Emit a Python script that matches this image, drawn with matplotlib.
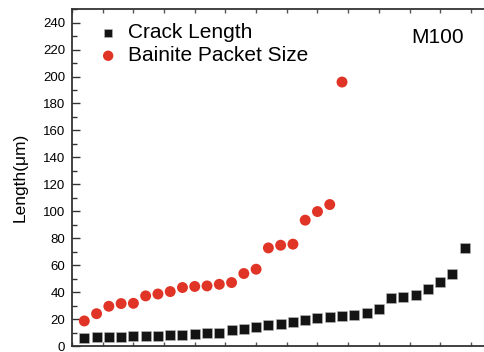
import matplotlib
matplotlib.use("Agg")
import matplotlib.pyplot as plt
from matplotlib.ticker import MultipleLocator, NullFormatter

plt.rcParams["font.family"] = ["Liberation Sans", "DejaVu Sans"]

# sample index (sorted by size)
crack_idx = list(range(1, 33))
crack_len = [5.7, 6.4, 6.9, 6.9, 7.2, 7.4, 7.7, 8.4, 8.4, 9.2, 9.4, 9.7, 11.6, 12.9,
             14.1, 15.4, 16.1, 17.6, 19.6, 20.8, 21.5, 22.3, 23.3, 24.8, 27.5,
             35.4, 36.4, 38.1, 42.1, 47.3, 53.5, 72.6]

packet_idx = list(range(1, 23))
packet_size = [18.6, 24.0, 29.5, 31.5, 31.7, 37.2, 38.6, 40.4, 43.4, 44.2, 44.6,
               45.8, 47.1, 53.8, 57.0, 72.8, 74.8, 75.6, 93.4, 99.8, 105.0, 195.9]

fig = plt.figure(figsize=(4.85, 3.52), dpi=100)
ax = fig.add_axes([0.1485, 0.017, 0.8515, 0.957])

ax.scatter(crack_idx, crack_len, marker="s", s=42, color="#141414",
           edgecolors="#bbbbbb", linewidths=0.4, label="Crack Length", zorder=3)
ax.scatter(packet_idx, packet_size, marker="o", s=62, color="#e03426",
           edgecolors="none", label="Bainite Packet Size", zorder=3)

ax.set_xlim(0, 33.65)
ax.set_ylim(0, 250)
ax.xaxis.set_major_locator(MultipleLocator(2.5))
ax.xaxis.set_major_formatter(NullFormatter())
ax.yaxis.set_major_locator(MultipleLocator(20))
ax.yaxis.set_minor_locator(MultipleLocator(10))
ax.tick_params(axis="y", which="major", direction="in", length=6, width=1,
               labelsize=9.5, pad=5, color="#333333")
ax.tick_params(axis="y", which="minor", direction="in", length=3.5, width=1,
               color="#333333")
ax.tick_params(axis="x", which="major", direction="in", length=3, width=1,
               top=True, color="#555555")
for side in ["left", "bottom", "top", "right"]:
    ax.spines[side].set_linewidth(1.3)
    ax.spines[side].set_color("#333333")

ax.set_ylabel("Length(μm)", fontsize=12.5, labelpad=11)

ax.legend(loc="upper left", bbox_to_anchor=(0.027, 1.002), frameon=False,
          fontsize=15, handlelength=1.0, handletextpad=0.45, labelspacing=0.2,
          markerscale=0.95, borderaxespad=0.3)
ax.text(0.949, 0.915, "M100", transform=ax.transAxes, fontsize=15,
        ha="right", va="center")

fig.savefig("out.png", dpi=100)
